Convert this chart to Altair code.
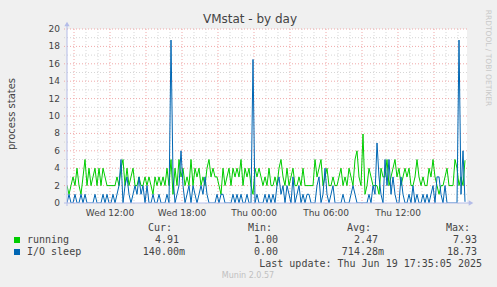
import altair as alt
import pandas as pd

# ---- data (10-minute samples, Wed 08:25 -> Thu 17:35) ----
running = [
    2, 1, 2, 3, 2, 4, 2, 1, 3, 5, 2, 4, 2, 3, 4, 2, 4, 2, 4, 3, 2, 2, 2, 2, 2, 3, 2, 4, 5, 2, 4, 2, 3,
    4, 2, 2, 3, 2, 2, 3, 2, 3, 2, 1, 3, 2, 3, 2, 3, 2, 4, 2, 5, 1, 4, 2, 5, 3, 4, 2, 3, 2, 5, 2, 4, 3,
    4, 2, 3, 2, 4, 5, 3, 4, 3, 3, 2, 1, 4, 2, 3, 4, 2, 4, 3, 4, 3, 5, 2, 4, 3, 4, 2, 1, 4, 3, 4, 3, 2,
    3, 2, 4, 2, 2, 3, 2, 4, 5, 3, 2, 4, 2, 3, 4, 2, 2, 3, 2, 4, 2, 2, 2, 2, 2, 5, 3, 4, 5, 2, 3, 4, 2,
    2, 3, 2, 2, 3, 4, 2, 3, 2, 4, 3, 2, 5, 6, 3, 2, 7.93, 1, 2, 4, 3, 2, 2, 2, 1, 4, 3, 3, 5, 2, 3, 4, 5,
    3, 4, 2, 3, 4, 3, 4, 2, 2, 3, 5, 3, 2, 3, 2, 2, 4, 3, 5, 3, 2, 1, 2, 2, 3, 4, 2, 2, 2, 5, 4, 2, 3, 2, 4.91,
]
io_sleep = [
    0, 1, 0, 0, 1, 0, 0, 1, 0, 1, 0, 0, 0, 0, 1, 0, 0, 0, 1, 0, 1, 0, 0, 1, 0, 1, 2, 5, 0, 2, 3, 1, 0,
    1, 2, 1, 3, 1, 2, 0, 2, 0, 0, 1, 0, 0, 1, 0, 0, 0, 1, 0, 18.73, 3, 0, 1, 2, 6, 2, 0, 1, 2, 0, 2, 1, 0,
    1, 2, 1, 3, 1, 0, 0, 0, 0, 1, 0, 1, 1, 0, 0, 0, 0, 1, 0, 1, 0, 1, 0, 0, 1, 0, 0, 16.5, 0, 1, 0, 0, 0,
    1, 0, 1, 0, 1, 0, 2, 3, 1, 2, 0, 2, 1, 0, 3, 0, 1, 2, 0, 1, 0, 1, 1, 0, 0, 0, 2, 3, 0, 1, 4, 1, 0,
    1, 2, 0, 0, 0, 0, 1, 0, 0, 0, 1, 2, 1, 0, 0, 0, 0, 0, 0, 1, 0, 2, 1, 6.9, 3, 1, 0, 5, 2, 5, 1, 3, 1,
    0, 0, 3, 1, 0, 0, 1, 0, 2, 0, 1, 0, 0, 1, 0, 1, 0, 1, 2, 0, 3, 3, 1, 0, 2, 0, 0, 0, 0, 0, 0, 18.73, 1, 6, 0.14,
]

x_tick_hours = [12, 18, 24, 30, 36]
x_tick_labels = ["Wed 12:00", "Wed 18:00", "Thu 00:00", "Thu 06:00", "Thu 12:00"]
y_ticks = [0, 2, 4, 6, 8, 10, 12, 14, 16, 18, 20]
y_tick_labels = ["0", "2", "4", "6", "8", "10", "12", "14", "16", "18", "20"]
y_minor = [1, 3, 5, 7, 9, 11, 13, 15, 17, 19]
x_major = [9, 12, 15, 18, 21, 24, 27, 30, 33, 36, 39]
x_minor = [10, 11, 13, 14, 16, 17, 19, 20, 22, 23, 25, 26, 28, 29, 31, 32, 34, 35, 37, 38, 40, 41]

series_names = ["running", "I/O sleep"]
series_colors = ["#00CC00", "#0066B3"]
stat_cur = ["4.91", "140.00m"]
stat_min = ["1.00", "0.00"]
stat_avg = ["2.47", "714.28m"]
stat_max = ["7.93", "18.73"]

# ---- build tables ----
start_hour = 8 + 25 / 60
step = 10 / 60
hours = [start_hour + i * step for i in range(len(running))]
df_run = pd.DataFrame({"h": hours, "v": running})
df_io = pd.DataFrame({"h": hours, "v": io_sleep})

xs = alt.Scale(domain=[start_hour, start_hour + 400 / 12], nice=False, zero=False)
ys = alt.Scale(domain=[0, 20], nice=False)

GRID_MINOR = "#d6d6d6"
GRID_MAJOR = "#f0a8a8"
AXIS_COL = "#b4bce8"
TXT = "#444444"
MONO = "DejaVu Sans Mono"
SANS = "DejaVu Sans"

one = pd.DataFrame({"a": [0]})

def hrule(vals, color):
    return alt.Chart(pd.DataFrame({"y": vals})).mark_rule(
        color=color, strokeDash=[1, 2], strokeWidth=1
    ).encode(y=alt.Y("y:Q", scale=ys, axis=None), x=alt.value(-3), x2=alt.value(400))

def vrule(vals, color):
    return alt.Chart(pd.DataFrame({"x": vals})).mark_rule(
        color=color, strokeDash=[1, 2], strokeWidth=1
    ).encode(x=alt.X("x:Q", scale=xs, axis=None), y=alt.value(0), y2=alt.value(176))

def txt(s, x, y, **kw):
    return alt.Chart(one).mark_text(text=s, **kw).encode(x=alt.value(x), y=alt.value(y))

layers = [
    hrule(y_minor, GRID_MINOR),
    vrule(x_minor, GRID_MINOR),
    hrule(y_ticks[1:], GRID_MAJOR),
    vrule(x_major, GRID_MAJOR),
]

line_run = alt.Chart(df_run).mark_line(color=series_colors[0], strokeWidth=1, clip=True).encode(
    x=alt.X("h:Q", scale=xs, axis=None),
    y=alt.Y("v:Q", scale=ys, axis=None),
)
line_io = alt.Chart(df_io).mark_line(color=series_colors[1], strokeWidth=1, clip=True).encode(
    x=alt.X("h:Q", scale=xs, axis=None),
    y=alt.Y("v:Q", scale=ys, axis=None),
)
layers += [line_run, line_io]

# axis lines with arrows
layers += [
    alt.Chart(one).mark_rule(color=AXIS_COL, strokeWidth=1).encode(
        x=alt.value(0), y=alt.value(-5), y2=alt.value(177)),
    alt.Chart(one).mark_rule(color=AXIS_COL, strokeWidth=1).encode(
        x=alt.value(-3), x2=alt.value(403), y=alt.value(174)),
    alt.Chart(one).mark_point(shape="triangle-up", filled=True, size=28, color=AXIS_COL, opacity=1).encode(
        x=alt.value(0), y=alt.value(-5)),
    alt.Chart(one).mark_point(shape="triangle-right", filled=True, size=28, color=AXIS_COL, opacity=1).encode(
        x=alt.value(404), y=alt.value(174)),
]

# tick labels
layers.append(
    alt.Chart(pd.DataFrame({"h": x_tick_hours, "t": x_tick_labels})).mark_text(
        font=SANS, fontSize=9, color=TXT, baseline="middle", align="center"
    ).encode(x=alt.X("h:Q", scale=xs, axis=None), y=alt.value(184), text="t:N")
)
layers.append(
    alt.Chart(pd.DataFrame({"v": y_ticks, "t": y_tick_labels})).mark_text(
        font=SANS, fontSize=9, color=TXT, baseline="middle", align="right"
    ).encode(y=alt.Y("v:Q", scale=ys, axis=None), x=alt.value(-7), text="t:N")
)

# titles
layers += [
    txt("VMstat - by day", 183, -10, font=SANS, fontSize=12, color=TXT, align="center", baseline="middle"),
    txt("process states", -55, 85, font=SANS, fontSize=10, color=TXT, align="center", baseline="middle", angle=270),
    txt("RRDTOOL / TOBI OETIKER", 421, 29, font=SANS, fontSize=7.5, color="#c8c8c8", align="center", baseline="middle", angle=90),
]

# legend
hdr_y = 199
row_y = [211, 223]
col_right = [105, 205, 304, 403]
for lab, r in zip(["Cur:", "Min:", "Avg:", "Max:"], col_right):
    layers.append(txt(lab, r, hdr_y, font=MONO, fontSize=10, color=TXT, align="right", baseline="middle"))

val_right = [118, 217, 317, 416]
for k in range(2):
    layers.append(alt.Chart(one).mark_square(size=36, color=series_colors[k], opacity=1).encode(
        x=alt.value(-50), y=alt.value(row_y[k])))
    layers.append(txt(series_names[k], -40, row_y[k], font=MONO, fontSize=10, color=TXT, align="left", baseline="middle"))
    for stats, r in zip([stat_cur, stat_min, stat_avg, stat_max], val_right):
        s = stats[k]
        rr = r if s.endswith("m") else r - 6
        layers.append(txt(s, rr, row_y[k], font=MONO, fontSize=10, color=TXT, align="right", baseline="middle"))

layers += [
    txt("Last update: Thu Jun 19 17:35:05 2025", 415, 235, font=MONO, fontSize=10, color=TXT, align="right", baseline="middle"),
    txt("Munin 2.0.57", 181, 247, font=SANS, fontSize=8, color="#c0c0c0", align="center", baseline="middle"),
]

chart = alt.layer(*layers).properties(
    width=400, height=174,
    autosize=alt.AutoSizeParams(type="none"),
    padding={"left": 67, "top": 29, "right": 30, "bottom": 84},
    background="#F0F0F0",
).configure_view(fill="white", stroke=None)

chart.save("out.html", embed_options={"renderer": "svg", "actions": False})
